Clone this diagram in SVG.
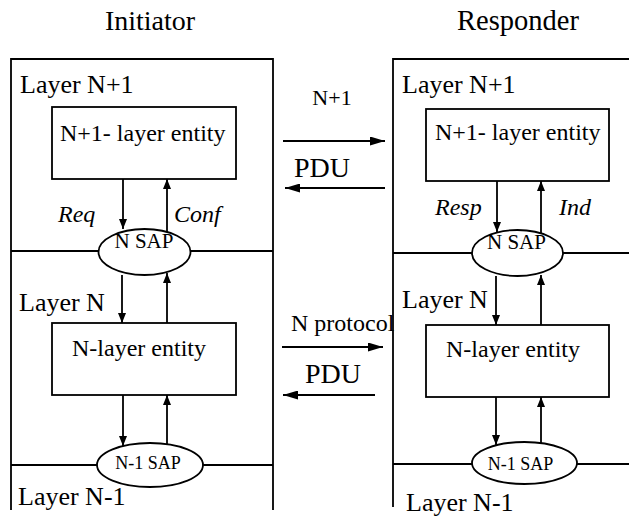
<svg xmlns="http://www.w3.org/2000/svg" width="629" height="518" viewBox="0 0 629 518">
<style>
  .ln{stroke:#000;stroke-width:1.8;fill:none}
  .box{stroke:#000;stroke-width:1.8;fill:#fff}
  .av{marker-end:url(#av)}
  .ah{marker-end:url(#ah)}
</style>
<defs>
  <marker id="av" markerUnits="userSpaceOnUse" markerWidth="10" markerHeight="8" refX="10" refY="4" orient="auto">
    <path d="M0,0 L10,4 L0,8 z" fill="#000"/>
  </marker>
  <marker id="ah" markerUnits="userSpaceOnUse" markerWidth="15" markerHeight="9" refX="15" refY="4.5" orient="auto">
    <path d="M0,0 L15,4.5 L0,9 z" fill="#000"/>
  </marker>
</defs>

<g id="titles">
  <text font-family="Liberation Serif" x="150" y="30" font-size="28" text-anchor="middle">Initiator</text>
  <text font-family="Liberation Serif" x="518" y="30" font-size="28.5" text-anchor="middle">Responder</text>
</g>

<g id="initiator-frame">
  <path class="ln" d="M11,510 V59 H273 V510"/>
  <path class="ln" d="M11,251 H99 M190,251 H273"/>
  <path class="ln" d="M11,465 H97 M203,465 H273"/>
  <text font-family="Liberation Serif" x="20" y="93" font-size="26">Layer N+1</text>
  <text font-family="Liberation Serif" x="19" y="311" font-size="26">Layer N</text>
  <text font-family="Liberation Serif" x="18" y="505" font-size="26">Layer N-1</text>
</g>

<g id="responder-frame">
  <path class="ln" d="M393,507 V59 H629"/>
  <path class="ln" d="M393,253 H472 M563,253 H629"/>
  <path class="ln" d="M393,464 H472 M577,464 H629"/>
  <text font-family="Liberation Serif" x="402" y="93" font-size="26">Layer N+1</text>
  <text font-family="Liberation Serif" x="402" y="308" font-size="26">Layer N</text>
  <text font-family="Liberation Serif" x="406" y="511" font-size="26">Layer N-1</text>
</g>

<g id="init-n1-entity">
  <rect class="box" x="52" y="107" width="184" height="72"/>
  <text font-family="Liberation Serif" x="60" y="141" font-size="24">N+1- layer entity</text>
</g>
<g id="init-nsap">
  <ellipse class="box" cx="144.5" cy="252" rx="46" ry="23"/>
  <text font-family="Liberation Serif" x="144" y="248" font-size="21" text-anchor="middle">N SAP</text>
</g>
<g id="init-n-entity">
  <rect class="box" x="52" y="323" width="184" height="72"/>
  <text font-family="Liberation Serif" x="139" y="356" font-size="24" text-anchor="middle">N-layer entity</text>
</g>
<g id="init-n-1sap">
  <ellipse class="box" cx="150" cy="465" rx="53" ry="22"/>
  <text font-family="Liberation Serif" x="148" y="469" font-size="18" text-anchor="middle">N-1 SAP</text>
</g>

<g id="resp-n1-entity">
  <rect class="box" x="426" y="109" width="183" height="72"/>
  <text font-family="Liberation Serif" x="435" y="140" font-size="24">N+1- layer entity</text>
</g>
<g id="resp-nsap">
  <ellipse class="box" cx="517.5" cy="253" rx="45.5" ry="23"/>
  <text font-family="Liberation Serif" x="516.5" y="249" font-size="21" text-anchor="middle">N SAP</text>
</g>
<g id="resp-n-entity">
  <rect class="box" x="426" y="325" width="183" height="72"/>
  <text font-family="Liberation Serif" x="513" y="357" font-size="24" text-anchor="middle">N-layer entity</text>
</g>
<g id="resp-n-1sap">
  <ellipse class="box" cx="524.5" cy="463" rx="52.5" ry="21"/>
  <text font-family="Liberation Serif" x="520.5" y="470" font-size="18" text-anchor="middle">N-1 SAP</text>
</g>

<g id="connectors">
  <line class="ln av" x1="123" y1="179" x2="123" y2="229"/>
  <line class="ln av" x1="167" y1="232" x2="167" y2="179"/>
  <line class="ln av" x1="122" y1="275" x2="122" y2="323"/>
  <line class="ln av" x1="167" y1="323" x2="167" y2="273"/>
  <line class="ln av" x1="123" y1="395" x2="123" y2="446"/>
  <line class="ln av" x1="167" y1="444" x2="167" y2="395"/>
  <line class="ln av" x1="497" y1="181" x2="497" y2="232"/>
  <line class="ln av" x1="541" y1="233" x2="541" y2="181"/>
  <line class="ln av" x1="496" y1="276" x2="496" y2="325"/>
  <line class="ln av" x1="541" y1="325" x2="541" y2="275"/>
  <line class="ln av" x1="496" y1="397" x2="496" y2="445"/>
  <line class="ln av" x1="541" y1="443" x2="541" y2="397"/>
  <line class="ln ah" x1="283" y1="141" x2="385" y2="141"/>
  <line class="ln ah" x1="385" y1="188" x2="285" y2="188"/>
  <line class="ln ah" x1="282" y1="347" x2="383" y2="347"/>
  <line class="ln ah" x1="375" y1="395" x2="283" y2="395"/>
</g>

<g id="labels">
  <text font-family="Liberation Serif" font-style="italic" x="58" y="222" font-size="24">Req</text>
  <text font-family="Liberation Serif" font-style="italic" x="174" y="222" font-size="24">Conf</text>
  <text font-family="Liberation Serif" font-style="italic" x="435" y="215" font-size="24">Resp</text>
  <text font-family="Liberation Serif" font-style="italic" x="559" y="215" font-size="24">Ind</text>
  <text font-family="Liberation Serif" x="332" y="105" font-size="22" text-anchor="middle">N+1</text>
  <text font-family="Liberation Serif" x="294" y="177" font-size="28">PDU</text>
  <text font-family="Liberation Serif" x="291" y="331" font-size="24">N protocol</text>
  <text font-family="Liberation Serif" x="305" y="383" font-size="28">PDU</text>
</g>
</svg>
